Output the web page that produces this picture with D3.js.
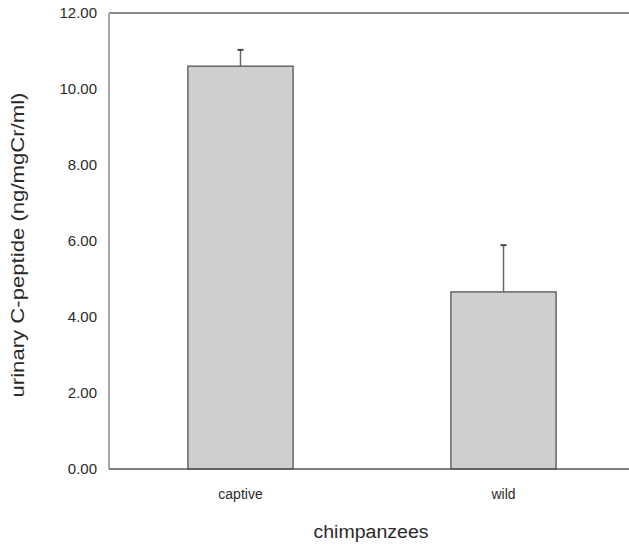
<!DOCTYPE html>
<html>
<head>
<meta charset="utf-8">
<title>C-peptide</title>
<style>
  body { margin: 0; background: #fff; }
  text { font-family: "Liberation Sans", Arial, sans-serif; fill: #2a2a2a; }
</style>
<script src="https://d3js.org/d3.v7.min.js"></script>
</head>
<body>
<script>
var categories = ["captive", "wild"];
var means = [10.6, 4.66];
var errors = [0.43, 1.23];
var yTicks = [0, 2, 4, 6, 8, 10, 12];

var width = 629, height = 548;
var plotLeft = 109, plotTop = 13, plotBottom = 469, plotRight = 629;

var svg = d3.select("body").append("svg")
    .attr("width", width)
    .attr("height", height);

var x = d3.scaleBand()
    .domain(categories)
    .range([plotLeft, 635])
    .paddingInner(0.6)
    .paddingOuter(0.3);

var y = d3.scaleLinear()
    .domain([0, 12])
    .range([plotBottom, plotTop]);

// frame lines
svg.append("line")
    .attr("x1", plotLeft).attr("x2", plotRight)
    .attr("y1", plotTop).attr("y2", plotTop)
    .attr("stroke", "#8a8a8a").attr("stroke-width", 2);
svg.append("line")
    .attr("x1", plotLeft).attr("x2", plotLeft)
    .attr("y1", plotTop).attr("y2", plotBottom)
    .attr("stroke", "#a8a8a8").attr("stroke-width", 2);

// y axis labels
svg.append("g").selectAll("text")
    .data(yTicks)
    .enter().append("text")
    .attr("x", 97)
    .attr("y", function(d) { return y(d); })
    .attr("dy", "0.35em")
    .attr("text-anchor", "end")
    .style("font-size", "15px")
    .text(d3.format(".2f"));

// error bars
var eb = svg.append("g").selectAll("g")
    .data(categories)
    .enter().append("g");
eb.append("line")
    .attr("x1", function(d) { return x(d) + x.bandwidth() / 2; })
    .attr("x2", function(d) { return x(d) + x.bandwidth() / 2; })
    .attr("y1", function(d, i) { return y(means[i]); })
    .attr("y2", function(d, i) { return y(means[i] + errors[i]); })
    .attr("stroke", "#666").attr("stroke-width", 1.5);
eb.append("line")
    .attr("x1", function(d) { return x(d) + x.bandwidth() / 2 - 3; })
    .attr("x2", function(d) { return x(d) + x.bandwidth() / 2 + 3; })
    .attr("y1", function(d, i) { return y(means[i] + errors[i]); })
    .attr("y2", function(d, i) { return y(means[i] + errors[i]); })
    .attr("stroke", "#444").attr("stroke-width", 2);

// bars
svg.append("g").selectAll("rect")
    .data(categories)
    .enter().append("rect")
    .attr("x", function(d) { return x(d); })
    .attr("y", function(d, i) { return y(means[i]); })
    .attr("width", x.bandwidth())
    .attr("height", function(d, i) { return y(0) - y(means[i]); })
    .attr("fill", "#cfcfcf")
    .attr("stroke", "#666")
    .attr("stroke-width", 1.5);

// bottom line
svg.append("line")
    .attr("x1", plotLeft).attr("x2", plotRight)
    .attr("y1", plotBottom).attr("y2", plotBottom)
    .attr("stroke", "#555").attr("stroke-width", 1.5);

// category labels
svg.append("g").selectAll("text")
    .data(categories)
    .enter().append("text")
    .attr("x", function(d) { return x(d) + x.bandwidth() / 2; })
    .attr("y", 499)
    .attr("text-anchor", "middle")
    .style("font-size", "14px")
    .text(function(d) { return d; });

// axis titles
svg.append("text")
    .attr("x", 371)
    .attr("y", 538)
    .attr("text-anchor", "middle")
    .attr("textLength", 115)
    .attr("lengthAdjust", "spacingAndGlyphs")
    .style("font-size", "18px")
    .text("chimpanzees");

svg.append("text")
    .attr("transform", "translate(24,245) rotate(-90)")
    .attr("text-anchor", "middle")
    .attr("textLength", 305)
    .attr("lengthAdjust", "spacingAndGlyphs")
    .style("font-size", "18px")
    .text("urinary C-peptide (ng/mgCr/ml)");
</script>
</body>
</html>
